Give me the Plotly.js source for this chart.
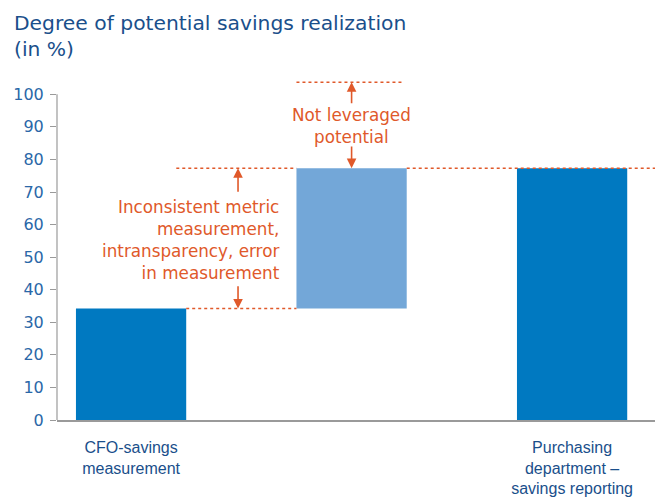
<!DOCTYPE html>
<html><head><meta charset="utf-8">
<script src="https://cdn.plot.ly/plotly-3.0.1.min.js"></script>
<style>body{margin:0;padding:0;background:#fff}#chart{width:655px;height:497px}</style>
</head><body><div id="chart"></div>
<script>
// Data
var categories = ['CFO-savings<br>measurement', '', 'Purchasing<br>department –<br>savings reporting'];
var barBase = [0, 34.2, 0];
var barTop = [34.2, 77.3, 77.3];
var fullPotential = 103.7;
var yTicks = [0, 10, 20, 30, 40, 50, 60, 70, 80, 90, 100];
var titleText = 'Degree of potential savings realization<br>(in %)';
var gapLabel = 'Inconsistent metric<br>measurement,<br>intransparency, error<br>in measurement';
var potentialLabel = 'Not leveraged<br>potential';

var xIdx = categories.map(function(_, i){ return i; });
var barLen = barTop.map(function(t, i){ return t - barBase[i]; });
var colors = ['#0079c1', '#73a7d8', '#0079c1'];
var orange = '#e0592a';
var fontA = 'Liberation Sans, Arial, sans-serif';
var fontD = 'DejaVu Sans, sans-serif';

var trace = {
  type: 'bar', x: xIdx, y: barLen, base: barBase,
  marker: {color: colors, line: {width: 0}},
  width: 0.5, hoverinfo: 'skip'
};

var dot = {color: orange, width: 1.5, dash: 'dot'};
var shapes = [
  {type: 'line', xref: 'paper', yref: 'y', x0: 0, x1: 0, y0: 0, y1: yTicks[yTicks.length-1], line: {color: '#9a9a9a', width: 1.2}},
  {type: 'line', xref: 'x', yref: 'y', x0: xIdx[0] + 0.25, x1: xIdx[1] - 0.25, y0: barTop[0], y1: barTop[0], line: dot},
  {type: 'line', xref: 'x', yref: 'y', x0: xIdx[0] + 0.205, x1: xIdx[1] - 0.25, y0: barTop[1], y1: barTop[1], line: dot},
  {type: 'line', xref: 'x', yref: 'y', x0: xIdx[1] + 0.25, x1: 2.376, y0: barTop[1], y1: barTop[1], line: dot},
  {type: 'line', xref: 'x', yref: 'y', x0: xIdx[1] - 0.25, x1: xIdx[1] + 0.23, y0: fullPotential, y1: fullPotential, line: dot}
];

var arrowX = 0.485;
function arrow(x, y, ay) {
  return {x: x, y: y, ax: x, ay: ay, axref: 'x', ayref: 'y', xref: 'x', yref: 'y', showarrow: true,
    arrowhead: 2, arrowsize: 1.2, arrowwidth: 1.6, arrowcolor: orange, text: ''};
}
var ann = [
  arrow(arrowX, barTop[1], 69.6),
  arrow(arrowX, barBase[1], 41.5),
  arrow(xIdx[1], fullPotential, 96.8),
  arrow(xIdx[1], barTop[1], 84.4),
  {x: 0.685, y: 55.2, xref: 'x', yref: 'y', xanchor: 'right', yanchor: 'middle', align: 'right', showarrow: false, text: gapLabel, font: {family: fontD, size: 16.8, color: orange}},
  {x: xIdx[1], y: 90.2, xref: 'x', yref: 'y', xanchor: 'center', yanchor: 'middle', align: 'center', showarrow: false, text: potentialLabel, font: {family: fontD, size: 16.8, color: orange}},
  {x: -0.0753, y: 1.2007, xref: 'paper', yref: 'paper', xanchor: 'left', yanchor: 'top', align: 'left', showarrow: false, text: titleText, font: {family: fontD, size: 20.3, color: '#1a4f8b'}}
];

var layout = {
  width: 655, height: 497,
  margin: {l: 57, r: 0, t: 77.7, b: 77, pad: 0},
  paper_bgcolor: '#fff', plot_bgcolor: '#fff',
  showlegend: false,
  xaxis: {range: [-0.336, 2.376], tickvals: xIdx, ticktext: categories, showgrid: false, zeroline: false,
    showline: true, linecolor: '#9a9a9a', linewidth: 1.5, ticks: '', ticklabelstandoff: 12,
    tickfont: {family: fontA, size: 16, color: '#1a4f8b'}, fixedrange: true},
  yaxis: {range: [0, 105], tickvals: yTicks, showgrid: false, zeroline: false, showline: false,
    ticks: 'outside', ticklen: 6, tickcolor: '#9a9a9a', tickwidth: 1,
    ticklabelstandoff: 3,
    tickfont: {family: fontD, size: 16, color: '#2a67a8'}, fixedrange: true},
  shapes: shapes, annotations: ann
};

Plotly.newPlot('chart', [trace], layout, {displayModeBar: false, staticPlot: true});
</script></body></html>
